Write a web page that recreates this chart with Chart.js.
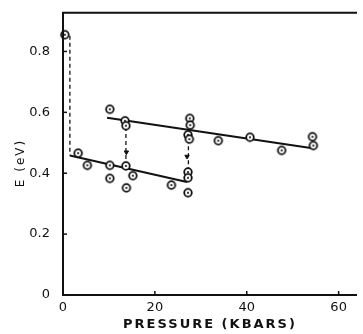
<!DOCTYPE html>
<html>
<head>
<meta charset="utf-8">
<script src="https://cdn.jsdelivr.net/npm/chart.js@4.4.1/dist/chart.umd.min.js"></script>
<style>
  html, body { margin: 0; padding: 0; background: #fff; }
  #wrap { width: 363px; height: 334px; position: relative; }
</style>
</head>
<body>
<div id="wrap"><canvas id="chart"></canvas></div>
<script>
// measured points, pressure in kbar, energy in eV
const pressure = [0.4, 3.3, 5.3, 10.2, 10.2, 13.7, 13.8, 15.2, 23.6, 27.2, 27.2, 27.2,
                  10.2, 13.5, 13.7, 27.6, 27.7, 27.2, 27.5, 33.8, 40.7, 47.6, 54.3, 54.5];
const energy   = [0.855, 0.466, 0.426, 0.426, 0.383, 0.424, 0.352, 0.392, 0.361, 0.404, 0.385, 0.336,
                  0.610, 0.572, 0.556, 0.580, 0.558, 0.526, 0.512, 0.507, 0.518, 0.475, 0.520, 0.491];

// fitted lines
const lowerFitX = [1.5, 27.0];
const lowerFitY = [0.458, 0.371];
const upperFitX = [9.6, 54.3];
const upperFitY = [0.582, 0.482];

// dashed transitions
const dashA_X = [1.5, 1.5];
const dashA_Y = [0.852, 0.458];
const dashB_X = [13.7, 13.7];
const dashB_Y = [0.552, 0.432];
const dashC_X = [27.3, 27.3];
const dashC_Y = [0.512, 0.41];

// arrow heads on the dashed lines
const arrowX = [13.8, 27.0];
const arrowY = [0.469, 0.455];

const xTicks = [0, 20, 40, 60];
const yTicks = [0, 0.2, 0.4, 0.6, 0.8];
const yTickLabels = ['0', '0.2', '0.4', '0.6', '0.8'];

function pairs(xs, ys) {
    return xs.map(function(x, i) { return { x: x, y: ys[i] }; });
}

// circle with a dot in the middle
function makeMarker() {
    const c = document.createElement('canvas');
    c.width = 12; c.height = 12;
    const g = c.getContext('2d');
    g.lineWidth = 1.8;
    g.strokeStyle = '#111';
    g.fillStyle = '#fff';
    g.beginPath(); g.arc(6, 6, 3.8, 0, Math.PI * 2); g.fill(); g.stroke();
    g.fillStyle = '#111';
    g.beginPath(); g.arc(6, 6, 1.1, 0, Math.PI * 2); g.fill();
    return c;
}

function lineSet(xs, ys, dashed) {
    return {
        data: pairs(xs, ys),
        showLine: true,
        borderColor: '#111',
        borderWidth: dashed ? 1.3 : 2,
        borderDash: dashed ? [4, 3] : [],
        pointRadius: 0,
        order: 2
    };
}

// axes frame, inward ticks and titles
const framePlugin = {
    id: 'frame',
    afterDraw: function(chart) {
        const ctx = chart.ctx;
        const a = chart.chartArea;
        const xs = chart.scales.x, ys = chart.scales.y;
        ctx.save();
        ctx.strokeStyle = '#111';
        ctx.lineWidth = 2;
        ctx.beginPath();
        ctx.moveTo(a.right, a.top);
        ctx.lineTo(a.left, a.top);
        ctx.lineTo(a.left, a.bottom);
        ctx.lineTo(a.right, a.bottom);
        ctx.stroke();
        ctx.lineWidth = 1.5;
        xTicks.forEach(function(v) {
            const px = xs.getPixelForValue(v);
            ctx.beginPath(); ctx.moveTo(px, a.bottom); ctx.lineTo(px, a.bottom - 4); ctx.stroke();
        });
        yTicks.forEach(function(v) {
            const py = ys.getPixelForValue(v);
            ctx.beginPath(); ctx.moveTo(a.left, py); ctx.lineTo(a.left + 4, py); ctx.stroke();
        });
        ctx.fillStyle = '#111';
        ctx.font = 'bold 13px "DejaVu Sans"';
        ctx.letterSpacing = '2px';
        ctx.textAlign = 'center';
        ctx.textBaseline = 'middle';
        ctx.fillText('PRESSURE (KBARS)', 210, 325);
        ctx.translate(21, 163);
        ctx.rotate(-Math.PI / 2);
        ctx.font = '12px "DejaVu Sans"';
        ctx.fillText('E (eV)', 0, 0);
        ctx.restore();
    }
};

const marker = makeMarker();

new Chart(document.getElementById('chart'), {
    type: 'scatter',
    data: {
        datasets: [
            {
                data: pairs(pressure, energy),
                pointStyle: marker,
                pointRadius: 5,
                clip: false,
                order: 0
            },
            {
                data: pairs(arrowX, arrowY),
                pointStyle: 'triangle',
                rotation: 180,
                pointRadius: 2.5,
                backgroundColor: '#111',
                borderColor: '#111',
                borderWidth: 1,
                order: 1
            },
            lineSet(lowerFitX, lowerFitY, false),
            lineSet(upperFitX, upperFitY, false),
            lineSet(dashA_X, dashA_Y, true),
            lineSet(dashB_X, dashB_Y, true),
            lineSet(dashC_X, dashC_Y, true)
        ]
    },
    options: {
        responsive: true,
        maintainAspectRatio: false,
        animation: false,
        layout: { padding: { top: 10, right: 0 } },
        plugins: {
            legend: { display: false },
            tooltip: { enabled: false }
        },
        scales: {
            x: {
                type: 'linear',
                min: 0,
                max: 64,
                afterBuildTicks: function(scale) {
                    scale.ticks = xTicks.map(function(v) { return { value: v }; });
                },
                afterFit: function(scale) { scale.height = 39; },
                grid: { display: false },
                border: { display: false },
                ticks: {
                    color: '#111',
                    padding: -3,
                    font: { family: '"DejaVu Sans"', size: 13 }
                }
            },
            y: {
                type: 'linear',
                min: 0,
                max: 0.927,
                afterBuildTicks: function(scale) {
                    scale.ticks = yTicks.map(function(v) { return { value: v }; });
                },
                afterFit: function(scale) { scale.width = 63; },
                grid: { display: false },
                border: { display: false },
                ticks: {
                    color: '#111',
                    padding: 5,
                    font: { family: '"DejaVu Sans"', size: 13 },
                    callback: function(value, index) { return yTickLabels[index]; }
                }
            }
        }
    },
    plugins: [framePlugin]
});
</script>
</body>
</html>
